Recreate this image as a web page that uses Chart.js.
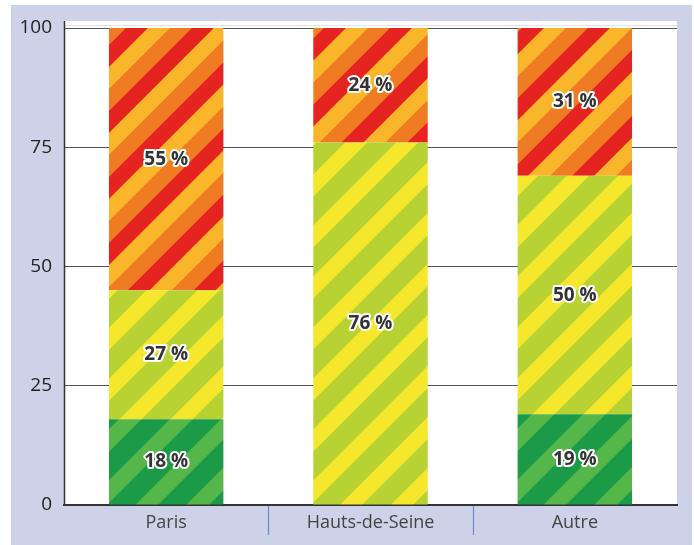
<!DOCTYPE html>
<html>
<head>
<meta charset="utf-8">
<script src="https://cdn.jsdelivr.net/npm/chart.js@4"></script>
<style>
  html, body { margin: 0; padding: 0; background: #ffffff; }
  #wrap { width: 694px; height: 545px; }
</style>
</head>
<body>
<div id="wrap"><canvas id="chart" width="694" height="545"></canvas></div>
<script>
// Categories and stacked shares (percent)
const categories = ['Paris', 'Hauts-de-Seine', 'Autre'];
const shareGreen = [18, 0, 19];
const shareLime = [27, 76, 50];
const shareRed = [55, 24, 31];
const yTicks = [0, 25, 50, 75, 100];

// Build a repeating "/" diagonal stripe pattern (anti-aliased by supersampling)
function stripePattern(colors, stops, size) {
  const c = document.createElement('canvas');
  c.width = size; c.height = size;
  const g = c.getContext('2d');
  const img = g.createImageData(size, size);
  const rgb = colors.map(h => [parseInt(h.slice(1,3),16), parseInt(h.slice(3,5),16), parseInt(h.slice(5,7),16)]);
  const ss = 4;
  for (let y = 0; y < size; y++) {
    for (let x = 0; x < size; x++) {
      let r = 0, gg = 0, b = 0;
      for (let sy = 0; sy < ss; sy++) {
        for (let sx = 0; sx < ss; sx++) {
          const px = x + (sx + 0.5) / ss, py = y + (sy + 0.5) / ss;
          const t = ((px + py) % size) / size;
          let k = 0;
          while (k < stops.length - 1 && t >= stops[k]) k++;
          r += rgb[k][0]; gg += rgb[k][1]; b += rgb[k][2];
        }
      }
      const n = ss * ss, i = (y * size + x) * 4;
      img.data[i] = r / n; img.data[i+1] = gg / n; img.data[i+2] = b / n; img.data[i+3] = 255;
    }
  }
  g.putImageData(img, 0, 0);
  return g.createPattern(c, 'repeat');
}

const ctx = document.getElementById('chart').getContext('2d');
const patGreen = stripePattern(['#1b9a47', '#55b64a'], [0.55, 1], 51);
const patLime = stripePattern(['#b8d133', '#f4e72c'], [0.56, 1], 51);
const patRed = stripePattern(['#ef7b22', '#e52421', '#f9b62a'], [1/3, 2/3, 1], 66);

// Panel background, plot frame and category separators
const framePlugin = {
  id: 'frame',
  beforeDraw(chart) {
    const c = chart.ctx, a = chart.chartArea;
    c.save();
    c.fillStyle = '#ffffff';
    c.fillRect(0, 0, chart.width, chart.height);
    c.fillStyle = '#cdd2e8';
    c.fillRect(11, 5, 681, chart.height - 5);
    c.fillStyle = '#ffffff';
    c.fillRect(a.left, 21, a.right - a.left, a.bottom - 21);
    c.strokeStyle = '#e2e2e6';
    c.lineWidth = 1;
    c.beginPath();
    c.moveTo(a.left, 25.5); c.lineTo(a.right, 25.5);
    c.stroke();
    c.restore();
  },
  afterDraw(chart) {
    const c = chart.ctx, a = chart.chartArea, xs = chart.scales.x;
    c.save();
    c.strokeStyle = '#333333';
    c.lineWidth = 1.5;
    c.beginPath();
    c.moveTo(a.left + 0.5, 21); c.lineTo(a.left + 0.5, a.bottom);
    c.stroke();
    c.strokeStyle = '#6f89c9';
    c.lineWidth = 1.2;
    for (let i = 0; i < categories.length - 1; i++) {
      const xm = Math.round((xs.getPixelForValue(i) + xs.getPixelForValue(i + 1)) / 2) + 0.5;
      c.beginPath();
      c.moveTo(xm, a.bottom + 1); c.lineTo(xm, a.bottom + 30);
      c.stroke();
    }
    c.restore();
  }
};

// Percent labels centred in each stacked segment
const labelPlugin = {
  id: 'segLabels',
  afterDatasetsDraw(chart) {
    const c = chart.ctx;
    c.save();
    c.font = "bold 19px 'Open Sans', sans-serif";
    c.textAlign = 'center';
    c.textBaseline = 'middle';
    c.lineJoin = 'round';
    chart.data.datasets.forEach((ds, di) => {
      const meta = chart.getDatasetMeta(di);
      meta.data.forEach((bar, i) => {
        const v = ds.data[i];
        if (!v) return;
        const txt = v + ' %';
        const y = (bar.y + bar.base) / 2;
        c.strokeStyle = '#ffffff';
        c.lineWidth = 4;
        c.strokeText(txt, bar.x, y);
        c.fillStyle = '#333333';
        c.fillText(txt, bar.x, y);
      });
    });
    c.restore();
  }
};

new Chart(ctx, {
  type: 'bar',
  data: {
    labels: categories,
    datasets: [
      { data: shareGreen, backgroundColor: patGreen },
      { data: shareLime, backgroundColor: patLime },
      { data: shareRed, backgroundColor: patRed }
    ]
  },
  options: {
    responsive: false,
    animation: false,
    devicePixelRatio: 1,
    layout: { padding: { left: 0, right: 17, top: 28, bottom: 0 } },
    datasets: { bar: { categoryPercentage: 1, barPercentage: 0.56, borderWidth: 0 } },
    plugins: { legend: { display: false }, tooltip: { enabled: false } },
    scales: {
      x: {
        stacked: true,
        afterFit(s) { s.height = 40; },
        grid: { display: false, drawTicks: false },
        border: { display: true, color: '#333333', width: 2 },
        ticks: { color: '#444444', padding: 7, font: { family: "'Open Sans', sans-serif", size: 18 } }
      },
      y: {
        stacked: true,
        min: 0, max: 100,
        afterFit(s) { s.width = 64; },
        afterBuildTicks(s) { s.ticks = yTicks.map(v => ({ value: v })); },
        grid: { color: '#555555', lineWidth: 1, drawTicks: false },
        border: { display: false },
        ticks: { color: '#222222', padding: 12, font: { family: "'Open Sans', sans-serif", size: 19 } }
      }
    }
  },
  plugins: [framePlugin, labelPlugin]
});
</script>
</body>
</html>
